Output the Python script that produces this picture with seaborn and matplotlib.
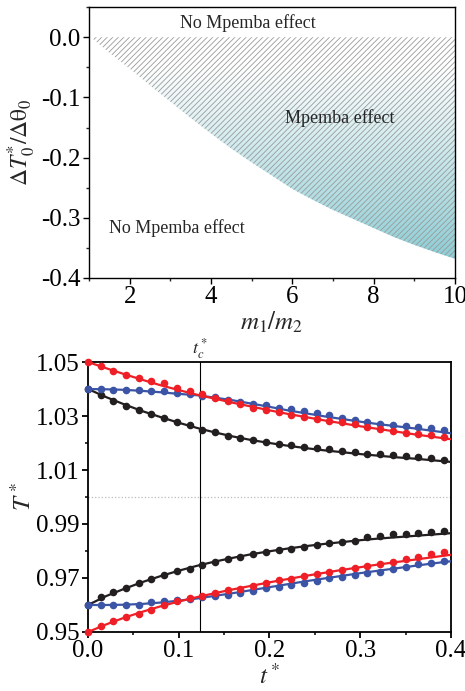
import numpy as np
import pandas as pd
import matplotlib
matplotlib.use('Agg')
import matplotlib.pyplot as plt
from matplotlib.colors import LinearSegmentedColormap
from matplotlib.ticker import MultipleLocator, FixedLocator, FormatStrFormatter
import seaborn as sns

# ---- top panel: phase boundary ----
ratio_m = [1.1, 1.5, 2.0, 2.5, 3.0, 3.5, 4.0, 4.5, 5.0, 5.5, 6.0, 6.5, 7.0, 7.5, 8.0, 8.5, 9.0, 9.5, 10.0]
boundary = [-0.003, -0.026, -0.052, -0.080, -0.107, -0.134, -0.160, -0.185, -0.208, -0.230,
            -0.252, -0.270, -0.287, -0.302, -0.317, -0.332, -0.345, -0.357, -0.368]

# ---- bottom panel: temperature relaxation ----
t_line = [0.00, 0.02, 0.04, 0.06, 0.08, 0.10, 0.12, 0.14, 0.16, 0.18, 0.20,
          0.22, 0.24, 0.26, 0.28, 0.30, 0.32, 0.34, 0.36, 0.38, 0.40]
red_hi_line = [1.0500, 1.0477, 1.0455, 1.0434, 1.0414, 1.0396, 1.0379, 1.0364, 1.0349, 1.0335, 1.0321,
               1.0308, 1.0296, 1.0284, 1.0273, 1.0262, 1.0252, 1.0242, 1.0232, 1.0223, 1.0214]
blue_hi_line = [1.0400, 1.0399, 1.0397, 1.0393, 1.0388, 1.0382, 1.0377, 1.0368, 1.0358, 1.0346, 1.0334,
                1.0321, 1.0310, 1.0299, 1.0289, 1.0279, 1.0270, 1.0262, 1.0254, 1.0245, 1.0236]
black_hi_line = [1.0400, 1.0370, 1.0343, 1.0318, 1.0296, 1.0275, 1.0256, 1.0239, 1.0224, 1.0211, 1.0200,
                 1.0190, 1.0181, 1.0173, 1.0166, 1.0159, 1.0153, 1.0147, 1.0142, 1.0136, 1.0130]
black_lo_line = [0.9600, 0.9633, 0.9660, 0.9685, 0.9707, 0.9727, 0.9745, 0.9761, 0.9775, 0.9788, 0.9799,
                 0.9809, 0.9818, 0.9826, 0.9833, 0.9840, 0.9846, 0.9851, 0.9856, 0.9861, 0.9866]
blue_lo_line = [0.9600, 0.9600, 0.9601, 0.9604, 0.9609, 0.9616, 0.9624, 0.9634, 0.9644, 0.9655, 0.9666,
                0.9677, 0.9688, 0.9698, 0.9708, 0.9718, 0.9727, 0.9736, 0.9745, 0.9754, 0.9762]
red_lo_line = [0.9500, 0.9528, 0.9553, 0.9575, 0.9595, 0.9613, 0.9629, 0.9644, 0.9658, 0.9671, 0.9684,
               0.9696, 0.9708, 0.9719, 0.9730, 0.9740, 0.9750, 0.9759, 0.9768, 0.9777, 0.9786]

t_pts = [0.000, 0.014, 0.028, 0.042, 0.056, 0.070, 0.084, 0.098, 0.112, 0.126, 0.140, 0.154, 0.168, 0.182, 0.196,
         0.210, 0.224, 0.238, 0.252, 0.266, 0.280, 0.294, 0.308, 0.322, 0.336, 0.350, 0.364, 0.378, 0.392]
red_hi_pts = [1.0500, 1.0484, 1.0468, 1.0451, 1.0442, 1.0431, 1.0421, 1.0405, 1.0394, 1.0382, 1.0368,
              1.0355, 1.0344, 1.0331, 1.0321, 1.0313, 1.0304, 1.0297, 1.0289, 1.0283,
              1.0278, 1.0270, 1.0261, 1.0251, 1.0244, 1.0238, 1.0232, 1.0228, 1.0224]
blue_hi_pts = [1.0400, 1.0399, 1.0398, 1.0398, 1.0397, 1.0393, 1.0392, 1.0387, 1.0382, 1.0374, 1.0371,
               1.0361, 1.0352, 1.0345, 1.0340, 1.0331, 1.0325, 1.0318, 1.0310, 1.0303,
               1.0293, 1.0287, 1.0278, 1.0272, 1.0267, 1.0264, 1.0260, 1.0256, 1.0249]
black_hi_pts = [1.0400, 1.0377, 1.0355, 1.0336, 1.0321, 1.0306, 1.0291, 1.0278, 1.0265, 1.0250, 1.0239,
                1.0227, 1.0217, 1.0211, 1.0202, 1.0197, 1.0192, 1.0186, 1.0182, 1.0179,
                1.0171, 1.0165, 1.0160, 1.0159, 1.0155, 1.0153, 1.0147, 1.0143, 1.0137]
black_lo_pts = [0.9600, 0.9630, 0.9648, 0.9663, 0.9683, 0.9696, 0.9711, 0.9727, 0.9735, 0.9749, 0.9761,
                0.9769, 0.9779, 0.9789, 0.9796, 0.9804, 0.9809, 0.9816, 0.9824, 0.9829,
                0.9835, 0.9838, 0.9851, 0.9857, 0.9862, 0.9863, 0.9868, 0.9871, 0.9873]
blue_lo_pts = [0.9600, 0.9600, 0.9599, 0.9600, 0.9601, 0.9612, 0.9616, 0.9618, 0.9623, 0.9630, 0.9634,
               0.9636, 0.9644, 0.9652, 0.9662, 0.9666, 0.9675, 0.9681, 0.9688, 0.9699,
               0.9703, 0.9712, 0.9720, 0.9724, 0.9734, 0.9742, 0.9751, 0.9755, 0.9763]
red_lo_pts = [0.9500, 0.9521, 0.9541, 0.9556, 0.9568, 0.9583, 0.9600, 0.9613, 0.9625, 0.9635, 0.9646,
              0.9654, 0.9660, 0.9672, 0.9683, 0.9692, 0.9698, 0.9706, 0.9713, 0.9723,
              0.9730, 0.9738, 0.9745, 0.9752, 0.9760, 0.9770, 0.9779, 0.9788, 0.9796]
t_c = 0.1234
T_major = [0.95, 0.97, 0.99, 1.01, 1.03, 1.05]
T_minor = [0.96, 0.98, 1.00, 1.02, 1.04]

RED = '#ee1f26'
BLUE = '#3b54a5'
BLACK = '#231f20'

sns.set_theme(style='ticks')
plt.rcParams['font.family'] = ['Liberation Serif', 'DejaVu Serif']
plt.rcParams['mathtext.fontset'] = 'stix'
plt.rcParams['axes.unicode_minus'] = False
plt.rcParams['hatch.color'] = '#9a9a9a'
plt.rcParams['hatch.linewidth'] = 0.6

fig = plt.figure(figsize=(4.65, 6.91), dpi=100)
ax1 = fig.add_axes([0.1914, 0.5977, 0.787, 0.392])
ax2 = fig.add_axes([0.1892, 0.0854, 0.7806, 0.3907])

# ---------- top ----------
zero = [0.0] * len(ratio_m)
fb = ax1.fill_between(ratio_m, boundary, zero, facecolor='none', edgecolor='none', zorder=1)
teal = LinearSegmentedColormap.from_list('teal', ['white', '#8ccdd5'])
grad = np.linspace(1, 0, 256).reshape(-1, 1)
im = ax1.imshow(grad, extent=[1, 10, -0.37, -0.05], origin='lower', aspect='auto', cmap=teal, zorder=1)
im.set_clip_path(fb.get_paths()[0], transform=ax1.transData)
ax1.fill_between(ratio_m, boundary, zero, facecolor='none', edgecolor='#9a9a9a',
                 hatch='//////', linewidth=0, zorder=2)
ax1.set_xlim(1, 10)
ax1.set_ylim(-0.4, 0.05)
ax1.xaxis.set_major_locator(MultipleLocator(2))
ax1.xaxis.set_minor_locator(MultipleLocator(1))
ax1.yaxis.set_major_locator(MultipleLocator(0.1))
ax1.yaxis.set_minor_locator(MultipleLocator(0.05))
ax1.yaxis.set_major_formatter(FormatStrFormatter('%.1f'))
ax1.text(4.9, 0.024, 'No Mpemba effect', ha='center', va='center', fontsize=13)
ax1.text(7.17, -0.135, 'Mpemba effect', ha='center', va='center', fontsize=13)
ax1.text(3.15, -0.317, 'No Mpemba effect', ha='center', va='center', fontsize=13)
ax1.set_xlabel(r'$m_1/m_2$', fontsize=18, labelpad=1)
ax1.set_ylabel(r'$\Delta T_0^{*}/\Delta\mathrm{\theta}_0$', fontsize=17, labelpad=2)

# ---------- bottom ----------
lines = pd.DataFrame({'t': t_line, 'red_hi': red_hi_line, 'blue_hi': blue_hi_line,
                      'black_hi': black_hi_line, 'black_lo': black_lo_line,
                      'blue_lo': blue_lo_line, 'red_lo': red_lo_line})
pts = pd.DataFrame({'t': t_pts, 'red_hi': red_hi_pts, 'blue_hi': blue_hi_pts,
                    'black_hi': black_hi_pts, 'black_lo': black_lo_pts,
                    'blue_lo': blue_lo_pts, 'red_lo': red_lo_pts})
colors = {'black_hi': BLACK, 'black_lo': BLACK, 'blue_hi': BLUE, 'blue_lo': BLUE,
          'red_hi': RED, 'red_lo': RED}

ax2.axhline(1.0, color='#bbbbbb', linestyle=':', linewidth=0.9, zorder=1)
ax2.axvline(t_c, color='black', linewidth=0.8, zorder=1)
for i, key in enumerate(['black_hi', 'black_lo', 'blue_hi', 'blue_lo', 'red_hi', 'red_lo']):
    sns.lineplot(data=lines, x='t', y=key, color=colors[key], linewidth=1.6, ax=ax2, zorder=3 + i)
    sns.scatterplot(data=pts, x='t', y=key, color=colors[key], s=30, linewidth=0, ax=ax2,
                    zorder=3 + i, clip_on=False)
ax2.set_xlim(0, 0.4)
ax2.set_ylim(0.95, 1.05)
ax2.xaxis.set_major_locator(MultipleLocator(0.1))
ax2.xaxis.set_minor_locator(MultipleLocator(0.05))
ax2.yaxis.set_major_locator(FixedLocator(T_major))
ax2.yaxis.set_minor_locator(FixedLocator(T_minor))
ax2.xaxis.set_major_formatter(FormatStrFormatter('%.1f'))
ax2.yaxis.set_major_formatter(FormatStrFormatter('%.2f'))
ax2.text(t_c, 1.0505, r'$t_c^*$', ha='center', va='bottom', fontsize=13)
ax2.set_xlabel(r'$t^*$', fontsize=18, labelpad=1)
ax2.set_ylabel(r'$T^*$', fontsize=18, labelpad=0)

for ax, lw in [(ax1, 1.0), (ax2, 1.3)]:
    for sp in ax.spines.values():
        sp.set_visible(True)
        sp.set_linewidth(lw)
        sp.set_color('black')
    ax.tick_params(which='major', direction='out', length=4, width=lw, labelsize=18,
                   pad=2, colors='black', top=False, right=False)
    ax.tick_params(which='minor', direction='out', length=2.2, width=lw, top=False, right=False)
    ax.set_facecolor('white')

fig.savefig('out.png', dpi=100)
